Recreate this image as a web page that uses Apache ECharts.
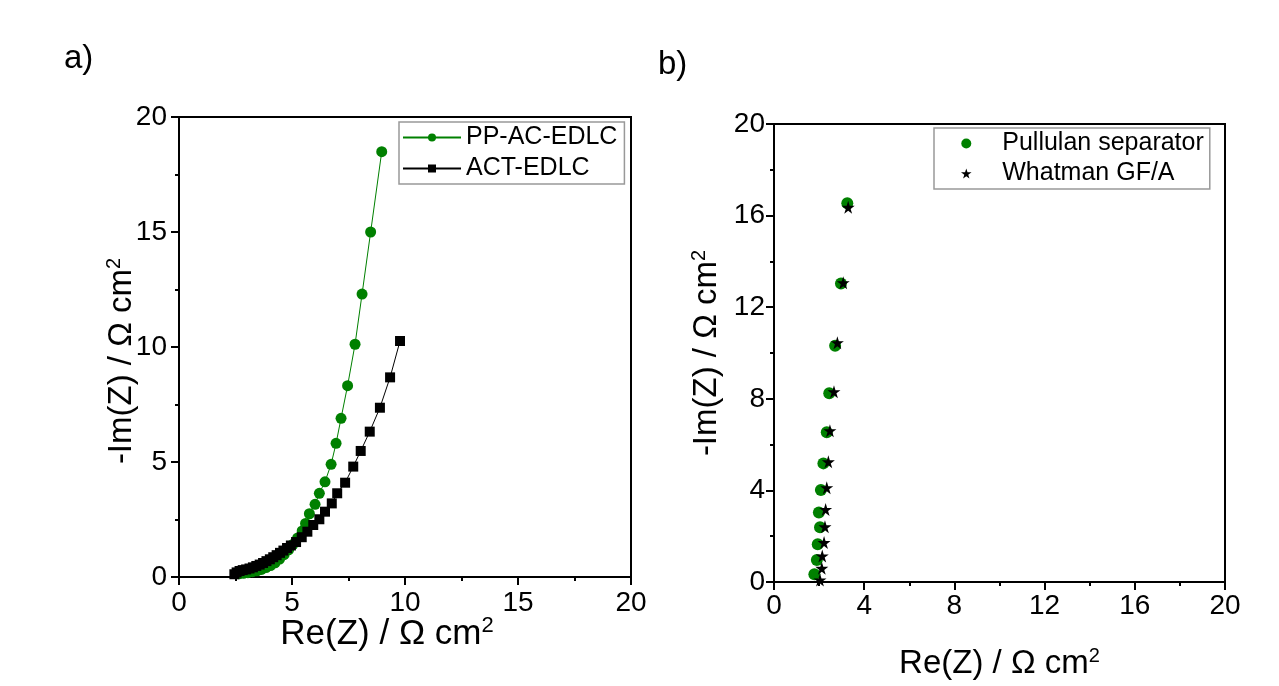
<!DOCTYPE html>
<html>
<head>
<meta charset="utf-8">
<script src="https://cdn.jsdelivr.net/npm/echarts@6/dist/echarts.min.js"></script>
<style>
html,body{margin:0;padding:0;background:#fff;}
#chart{width:1279px;height:686px;}
</style>
</head>
<body>
<div id="chart"></div>
<script>
// Panel a) data
const ppX  = [2.65,2.85,3.05,3.25,3.45,3.65,3.85,4.05,4.25,4.45,4.65,4.85,5.05,5.25,5.45,5.6,5.77,6.02,6.21,6.46,6.73,6.95,7.17,7.46,7.79,8.1,8.48,8.97];
const ppY  = [0.14,0.16,0.19,0.23,0.27,0.33,0.41,0.5,0.62,0.78,0.97,1.18,1.42,1.7,2.0,2.33,2.75,3.16,3.64,4.14,4.9,5.81,6.9,8.32,10.12,12.3,15.0,18.49];
const actX = [2.45,2.55,2.68,2.82,2.97,3.12,3.27,3.42,3.57,3.72,3.87,4.02,4.17,4.32,4.47,4.62,4.78,4.95,5.18,5.43,5.68,5.94,6.21,6.46,6.76,7.0,7.35,7.71,8.04,8.44,8.89,9.34,9.78];
const actY = [0.12,0.2,0.26,0.3,0.33,0.37,0.42,0.48,0.54,0.61,0.69,0.77,0.86,0.95,1.05,1.15,1.26,1.37,1.52,1.73,1.97,2.26,2.51,2.84,3.2,3.64,4.1,4.8,5.48,6.32,7.36,8.68,10.26];
// Panel b) data
const pulX = [3.25,2.97,2.71,2.45,2.34,2.19,2.08,1.99,2.04,1.94,1.90,1.79];
const pulY = [16.54,13.04,10.32,8.24,6.54,5.18,4.02,3.04,2.39,1.65,0.96,0.34];
const whatX = [3.29,3.07,2.81,2.66,2.48,2.41,2.34,2.29,2.26,2.22,2.14,2.12,2.04];
const whatY = [16.36,13.07,10.45,8.31,6.61,5.25,4.12,3.17,2.41,1.72,1.14,0.60,0.09];
// axis settings
const axA = {min:0, max:20, interval:5};
const axB = {min:0, max:20, interval:4};
const seriesNames = ['PP-AC-EDLC','ACT-EDLC','Pullulan separator','Whatman GF/A'];
const panelLabels = ['a)','b)'];
const xTitle = 'Re(Z) / Ω cm{s|2}';
const yTitle = '-Im(Z) / Ω cm{s|2}';

const zip = (xs, ys) => xs.map((x,i)=>[x, ys[i]]);
const FONT = "'Liberation Sans', Arial, sans-serif";
const STAR = 'path://M50,0 L61,35 L98,35 L68,57 L79,91 L50,70 L21,91 L32,57 L2,35 L39,35 Z';

function mkAxis(gi, ax, isY, nameGap, nameSize, labelMargin, namePad){
  return {
    type:'value', gridIndex:gi, min:ax.min, max:ax.max, interval:ax.interval,
    name: isY ? yTitle : xTitle, nameLocation:'middle', nameGap:nameGap, nameMoveOverlap:false,
    nameTextStyle:{fontFamily:FONT, fontSize:nameSize, color:'#000', padding:namePad,
      rich:{s:{fontSize:Math.round(nameSize*0.62), fontFamily:FONT, verticalAlign:'top', padding:[0,0,Math.round(nameSize*0.45),0], color:'#000'}}},
    axisLine:{show:true, onZero:false, lineStyle:{color:'#000', width:2}},
    axisTick:{show:true, inside:false, length:8, lineStyle:{color:'#000', width:2}},
    minorTick:{show:true, splitNumber:2, length:4, lineStyle:{color:'#000', width:2}},
    splitLine:{show:false}, minorSplitLine:{show:false},
    axisLabel:{fontFamily:FONT, fontSize:28, color:'#000', margin:labelMargin}
  };
}

const chart = echarts.init(document.getElementById('chart'));
chart.setOption({
  backgroundColor:'#fff',
  animation:false,
  title:[
    {text:panelLabels[0], left:59, top:37, textStyle:{fontFamily:FONT, fontSize:33, fontWeight:'normal', color:'#000'}},
    {text:panelLabels[1], left:653, top:43, textStyle:{fontFamily:FONT, fontSize:33, fontWeight:'normal', color:'#000'}}
  ],
  grid:[
    {left:179, top:117, width:452, height:460, show:true, borderColor:'#000', borderWidth:2, backgroundColor:'transparent'},
    {left:774, top:124, width:451, height:458, show:true, borderColor:'#000', borderWidth:2, backgroundColor:'transparent'}
  ],
  xAxis:[mkAxis(0, axA, false, 38, 35, 12, [0,36,0,0]), mkAxis(1, axB, false, 64, 33, 10, 0)],
  yAxis:[mkAxis(0, axA, true, 40, 33, 12, [0,28,0,0]), mkAxis(1, axB, true, 50, 33, 9, 0)],
  legend:[
    {data:[seriesNames[0], seriesNames[1]], orient:'vertical', left:399, top:122,
     padding:[3,7,3,3], itemGap:6, itemWidth:58, itemHeight:10,
     borderColor:'#999', borderWidth:1.5, backgroundColor:'#fff',
     textStyle:{fontFamily:FONT, fontSize:25, color:'#000'}},
    {data:[seriesNames[2], seriesNames[3]], orient:'vertical', left:934, top:128,
     padding:[3,6,3,27], itemGap:5, itemWidth:62, itemHeight:10,
     borderColor:'#999', borderWidth:1.5, backgroundColor:'#fff',
     textStyle:{fontFamily:FONT, fontSize:25, color:'#000'}}
  ],
  series:[
    {name:seriesNames[0], type:'line', xAxisIndex:0, yAxisIndex:0, data:zip(ppX, ppY),
     symbol:'circle', symbolSize:11, color:'#008000',
     lineStyle:{color:'#008000', width:1}, itemStyle:{color:'#008000', opacity:1}},
    {name:seriesNames[1], type:'line', xAxisIndex:0, yAxisIndex:0, data:zip(actX, actY),
     symbol:'rect', symbolSize:10, color:'#000',
     lineStyle:{color:'#000', width:1}, itemStyle:{color:'#000', opacity:1}},
    {name:seriesNames[2], type:'scatter', xAxisIndex:1, yAxisIndex:1, data:zip(pulX, pulY),
     symbol:'circle', symbolSize:12, itemStyle:{color:'#008000', opacity:1}},
    {name:seriesNames[3], type:'scatter', xAxisIndex:1, yAxisIndex:1, data:zip(whatX, whatY),
     symbol:STAR, symbolSize:13, itemStyle:{color:'#000', opacity:1}}
  ]
});
</script>
</body>
</html>
